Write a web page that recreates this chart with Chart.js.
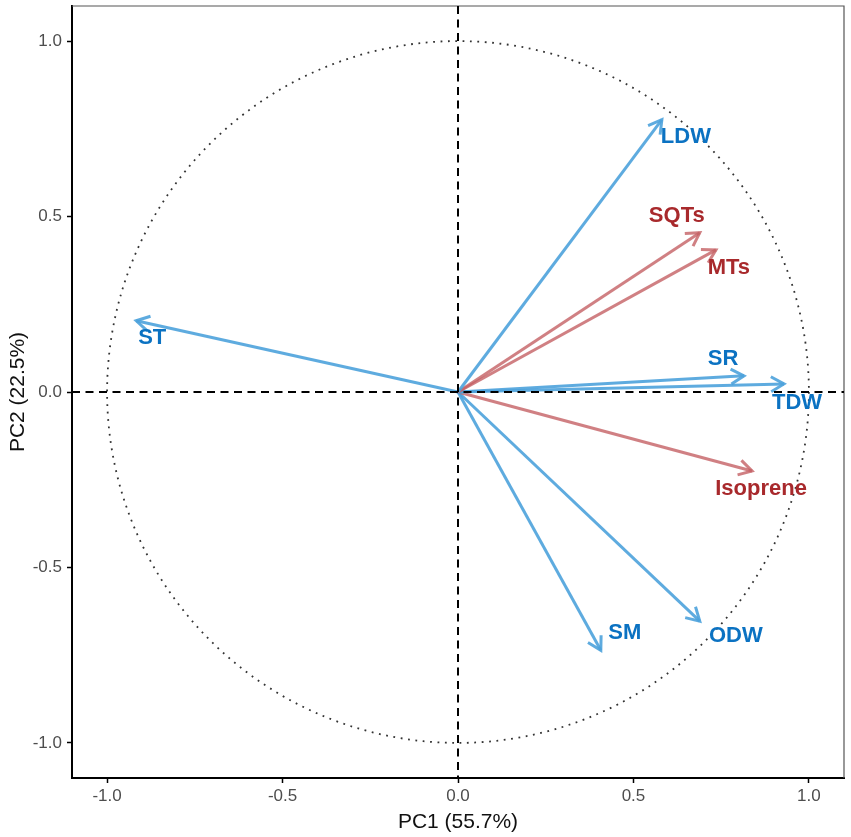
<!DOCTYPE html>
<html>
<head>
<meta charset="utf-8">
<script src="https://cdn.jsdelivr.net/npm/chart.js@4.4.0/dist/chart.umd.min.js"></script>
<style>
  html, body { margin: 0; padding: 0; background: #fff; }
  #wrap { width: 851px; height: 837px; }
</style>
</head>
<body>
<div id="wrap"><canvas id="graficoPCA"></canvas></div>
<script>
// variable loadings
const variables = ["LDW", "SQTs", "MTs", "ST", "SR", "TDW", "Isoprene", "ODW", "SM"];
const pc1 = [0.581, 0.689, 0.735, -0.917, 0.815, 0.929, 0.838, 0.689, 0.407];
const pc2 = [0.776, 0.454, 0.405, 0.203, 0.046, 0.023, -0.225, -0.653, -0.736];
const groups = ["growth", "voc", "voc", "growth", "growth", "growth", "voc", "growth", "growth"];
const axisTicks = [-1.0, -0.5, 0.0, 0.5, 1.0];

const lineColor = { growth: "rgba(77, 162, 219, 0.9)", voc: "rgba(196, 96, 100, 0.8)" };
const textColor = { growth: "#0b72c2", voc: "#a8292c" };

// label offsets (px) from the arrow tip
const labelOffset = {
  LDW: [24, 17], SQTs: [-23, -17], MTs: [13, 18], ST: [16, 17], SR: [-21, -17],
  TDW: [13, 19], Isoprene: [9, 18], ODW: [36, 15], SM: [24, -17]
};

const datasets = variables.map((v, i) => ({
  label: v,
  data: [{ x: 0, y: 0 }, { x: pc1[i], y: pc2[i] }],
  showLine: true,
  borderColor: lineColor[groups[i]],
  borderWidth: 3,
  pointRadius: 0,
  pointHoverRadius: 0
}));

const biplotDecor = {
  id: "biplotDecor",
  beforeDatasetsDraw(chart) {
    const { ctx, chartArea: a, scales: { x, y } } = chart;
    ctx.save();
    // box top/right
    ctx.strokeStyle = "#555";
    ctx.lineWidth = 1.2;
    ctx.beginPath();
    ctx.moveTo(a.left, a.top);
    ctx.lineTo(a.right, a.top);
    ctx.lineTo(a.right, a.bottom);
    ctx.stroke();
    // unit circle
    const cx = x.getPixelForValue(0), cy = y.getPixelForValue(0);
    const rx = x.getPixelForValue(1) - cx, ry = cy - y.getPixelForValue(1);
    ctx.strokeStyle = "#333";
    ctx.lineWidth = 1.8;
    ctx.setLineDash([1.8, 5.6]);
    ctx.beginPath();
    ctx.ellipse(cx, cy, rx, ry, 0, 0, Math.PI * 2);
    ctx.stroke();
    ctx.restore();
  },
  afterDatasetsDraw(chart) {
    const { ctx, chartArea: a, scales: { x, y } } = chart;
    const cx = x.getPixelForValue(0), cy = y.getPixelForValue(0);
    ctx.save();
    // arrowheads
    ctx.lineWidth = 3;
    ctx.lineCap = "butt";
    variables.forEach((v, i) => {
      const tx = x.getPixelForValue(pc1[i]), ty = y.getPixelForValue(pc2[i]);
      const ang = Math.atan2(ty - cy, tx - cx);
      const len = 15, spread = Math.PI / 6;
      ctx.strokeStyle = lineColor[groups[i]];
      ctx.beginPath();
      ctx.moveTo(tx - len * Math.cos(ang - spread), ty - len * Math.sin(ang - spread));
      ctx.lineTo(tx, ty);
      ctx.lineTo(tx - len * Math.cos(ang + spread), ty - len * Math.sin(ang + spread));
      ctx.stroke();
    });
    // zero lines
    ctx.strokeStyle = "#000";
    ctx.lineWidth = 2;
    ctx.setLineDash([8, 5.5]);
    ctx.beginPath();
    ctx.moveTo(cx, a.top);
    ctx.lineTo(cx, a.bottom);
    ctx.moveTo(a.left, cy);
    ctx.lineTo(a.right, cy);
    ctx.stroke();
    ctx.setLineDash([]);
    // labels
    ctx.font = "bold 22px 'Liberation Sans', Arial, sans-serif";
    ctx.textAlign = "center";
    ctx.textBaseline = "middle";
    variables.forEach((v, i) => {
      const tx = x.getPixelForValue(pc1[i]), ty = y.getPixelForValue(pc2[i]);
      const off = labelOffset[v];
      ctx.fillStyle = textColor[groups[i]];
      ctx.fillText(v, tx + off[0], ty + off[1]);
    });
    ctx.restore();
  }
};

const tickFont = { family: "'Liberation Sans', Arial, sans-serif", size: 17 };
const titleFont = { family: "'Liberation Sans', Arial, sans-serif", size: 21 };

const ctxPCA = document.getElementById("graficoPCA").getContext("2d");
new Chart(ctxPCA, {
  type: "scatter",
  data: { datasets: datasets },
  plugins: [biplotDecor],
  options: {
    responsive: true,
    maintainAspectRatio: false,
    animation: false,
    layout: { padding: { top: 6, right: 7, left: 0, bottom: 0 } },
    plugins: {
      legend: { display: false },
      tooltip: { enabled: false }
    },
    scales: {
      x: {
        type: "linear",
        min: -1.1,
        max: 1.1,
        afterBuildTicks: scale => { scale.ticks = axisTicks.map(v => ({ value: v })); },
        afterFit: scale => { scale.height = 59; scale.paddingLeft = 0; scale.paddingRight = 0; },
        ticks: {
          color: "#4d4d4d",
          font: tickFont,
          padding: 3,
          maxRotation: 0,
          callback: v => v.toFixed(1)
        },
        grid: { drawOnChartArea: false, color: "#000", tickLength: 5, tickWidth: 1.5 },
        border: { color: "#000", width: 2 },
        title: { display: true, text: "PC1 (55.7%)", color: "#111", font: titleFont, padding: { top: 0, bottom: 2 } }
      },
      y: {
        type: "linear",
        min: -1.1,
        max: 1.1,
        afterBuildTicks: scale => { scale.ticks = axisTicks.map(v => ({ value: v })); },
        afterFit: scale => { scale.width = 72; scale.paddingTop = 0; scale.paddingBottom = 0; },
        ticks: {
          color: "#4d4d4d",
          font: tickFont,
          padding: 5,
          callback: v => v.toFixed(1)
        },
        grid: { drawOnChartArea: false, color: "#000", tickLength: 5, tickWidth: 1.5 },
        border: { color: "#000", width: 2 },
        title: { display: true, text: "PC2 (22.5%)", color: "#111", font: titleFont, padding: { top: 6, bottom: 0 } }
      }
    }
  }
});
</script>
</body>
</html>
